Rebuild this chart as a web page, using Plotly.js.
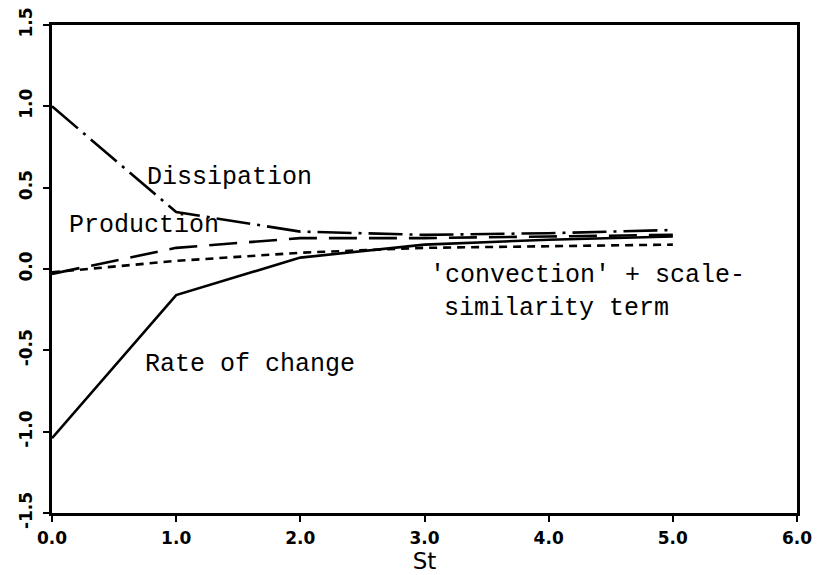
<!DOCTYPE html>
<html>
<head>
<meta charset="utf-8">
<script src="https://cdn.plot.ly/plotly-3.0.1.min.js"></script>
<style>html,body{margin:0;padding:0;background:#fff;}#chart{width:838px;height:575px;}</style>
</head>
<body>
<div id="chart"></div>
<script>
const st = [0, 1, 2, 3, 4, 5];
const dissipation = [1.0, 0.35, 0.23, 0.21, 0.22, 0.24];
const production = [-0.03, 0.13, 0.19, 0.19, 0.20, 0.21];
const convection = [-0.02, 0.05, 0.10, 0.13, 0.14, 0.15];
const rateOfChange = [-1.04, -0.16, 0.07, 0.15, 0.18, 0.20];
const xTicks = [0, 1, 2, 3, 4, 5, 6];
const xTickText = ['0.0', '1.0', '2.0', '3.0', '4.0', '5.0', '6.0'];
const yTicks = [-1.5, -1.0, -0.5, 0.0, 0.5, 1.0, 1.5];
const yTickText = ['-1.5', '-1.0', '-0.5', '0.0', '0.5', '1.0', '1.5'];

const mono = '"Courier New", "Liberation Mono", monospace';
const traces = [
  {x: st, y: dissipation, mode: 'lines', line: {color: '#000', width: 2.6, dash: '34px,7px,3px,7px'}},
  {x: st, y: production, mode: 'lines', line: {color: '#000', width: 2.6, dash: '28px,12px'}},
  {x: st, y: convection, mode: 'lines', line: {color: '#000', width: 2.6, dash: '8px,6px'}},
  {x: st, y: rateOfChange, mode: 'lines', line: {color: '#000', width: 2.6}}
];
const tickFont = {family: '"DejaVu Sans", sans-serif', size: 17, color: '#000', weight: 'bold'};
const layout = {
  width: 838, height: 575,
  margin: {l: 52, r: 41, t: 25, b: 62},
  paper_bgcolor: '#fff', plot_bgcolor: '#fff',
  showlegend: false,
  xaxis: {
    range: [0, 6], tickvals: xTicks, ticktext: xTickText,
    showgrid: false, zeroline: false, showline: true, mirror: true,
    linecolor: '#000', linewidth: 3, ticks: 'outside', ticklen: 6, tickwidth: 2, tickcolor: '#000',
    tickfont: tickFont, ticklabelstandoff: 2,
    title: {text: 'St', font: {family: '"DejaVu Sans", sans-serif', size: 23, color: '#000'}, standoff: 2}
  },
  yaxis: {
    range: [-1.5, 1.5], tickvals: yTicks, ticktext: yTickText, tickangle: -90,
    showgrid: false, zeroline: false, showline: true, mirror: true,
    linecolor: '#000', linewidth: 3, ticks: 'outside', ticklen: 6, tickwidth: 2, tickcolor: '#000',
    tickfont: tickFont, ticklabelstandoff: 4
  },
  annotations: [
    {x: 0.75, y: 0.565, text: 'Dissipation', xanchor: 'left', yanchor: 'middle', showarrow: false, font: {family: mono, size: 25, color: '#000'}},
    {x: 0.12, y: 0.27, text: 'Production', xanchor: 'left', yanchor: 'middle', showarrow: false, font: {family: mono, size: 25, color: '#000'}},
    {x: 3.03, y: -0.037, text: "'convection' + scale-", xanchor: 'left', yanchor: 'middle', showarrow: false, font: {family: mono, size: 25, color: '#000'}},
    {x: 3.14, y: -0.24, text: 'similarity term', xanchor: 'left', yanchor: 'middle', showarrow: false, font: {family: mono, size: 25, color: '#000'}},
    {x: 0.73, y: -0.59, text: 'Rate of change', xanchor: 'left', yanchor: 'middle', showarrow: false, font: {family: mono, size: 25, color: '#000'}}
  ]
};
Plotly.newPlot('chart', traces, layout, {displayModeBar: false, staticPlot: true});
</script>
</body>
</html>
